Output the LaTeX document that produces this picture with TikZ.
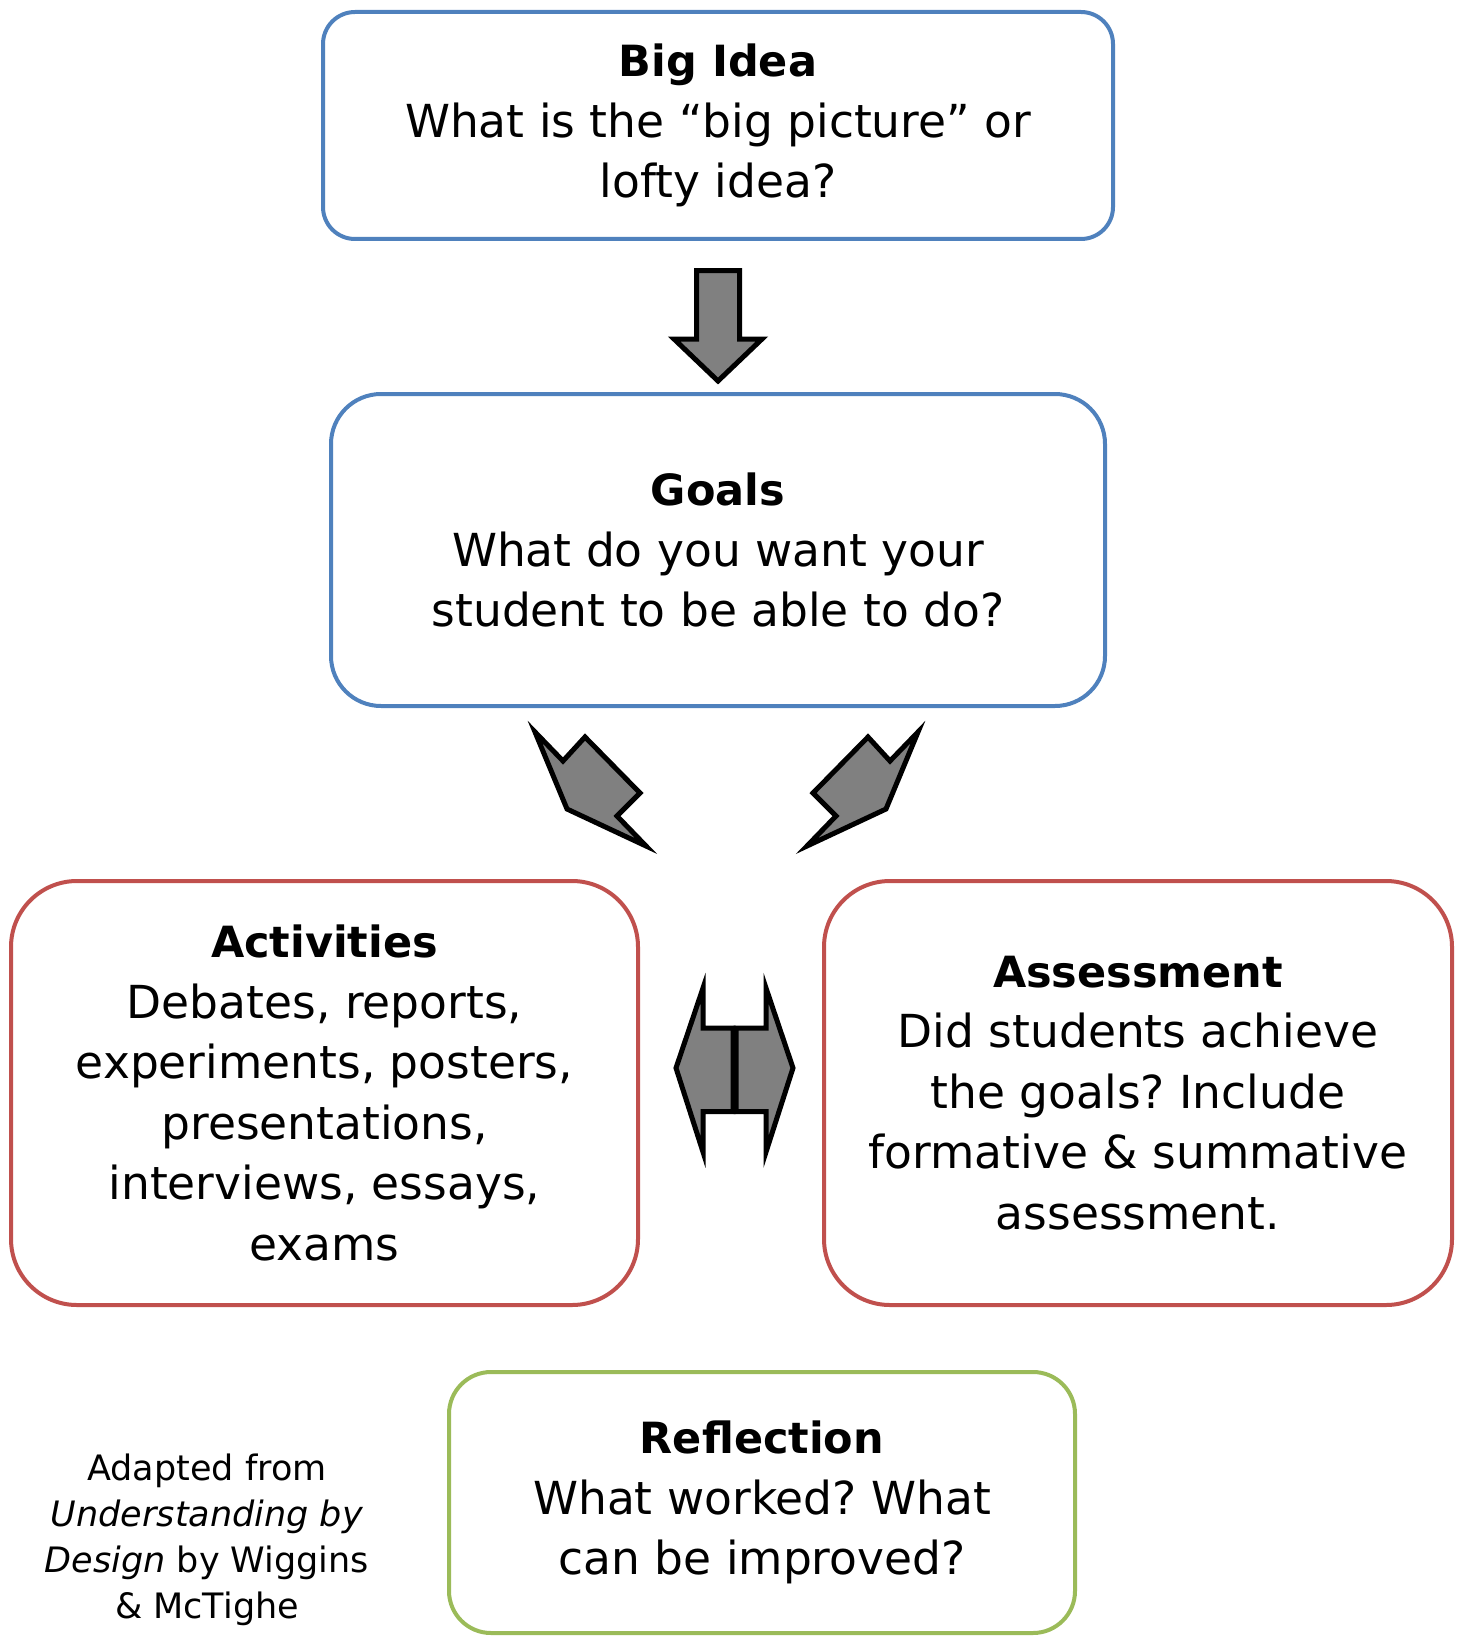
\documentclass[tikz,border=0pt]{standalone}
\usepackage{fontspec}
\setmainfont{DejaVu Sans}
\definecolor{bxblue}{HTML}{4F81BD}
\definecolor{bxred}{HTML}{C0504D}
\definecolor{bxgreen}{HTML}{9BBB59}
\definecolor{arrgray}{HTML}{808080}
\frenchspacing
\newcommand{\hd}[1]{{\fontsize{43}{60.5}\selectfont\bfseries #1}}
\begin{document}
\begin{tikzpicture}[x=1pt,y=-1pt,
  box/.style={draw, line width=4pt, fill=white, align=center, inner sep=0pt,
    font=\fontsize{45.5}{60.5}\selectfont},
  blockarrow/.style={draw=black, fill=arrgray, line width=5pt, line join=miter}]
\useasboundingbox (0,0) rectangle (1460,1637);
\clip (0,0) rectangle (1460,1637);

\node[box, draw=bxblue, rounded corners=32pt, minimum width=790pt, minimum height=227pt]
  (bigidea) at (718,125.5) {\hd{Big Idea}\\What is the “big picture” or\\lofty idea?};

\node[box, draw=bxblue, rounded corners=50pt, minimum width=774pt, minimum height=312pt]
  (goals) at (718,550) {\hd{Goals}\\What do you want your\\student to be able to do?};

\node[box, draw=bxred, rounded corners=66pt, minimum width=627pt, minimum height=424pt]
  (activities) at (324.5,1093) {\hd{Activities}\\Debates, reports,\\experiments, posters,\\presentations,\\interviews, essays,\\exams};

\node[box, draw=bxred, rounded corners=66pt, minimum width=628pt, minimum height=424pt]
  (assessment) at (1138,1093) {\hd{Assessment}\\Did students achieve\\the goals? Include\\formative \& summative\\assessment.};

\node[box, draw=bxgreen, rounded corners=42pt, minimum width=626pt, minimum height=261pt]
  (reflection) at (762,1502.5) {\hd{Reflection}\\What worked? What\\can be improved?};

\node[align=center, inner sep=0pt, font=\fontsize{35}{46}\selectfont]
  (credit) at (207,1539.7) {Adapted from\\\textit{Understanding by}\\\textit{Design} by Wiggins\\\& McTighe};

% down arrow
\draw[blockarrow] (696.5,270.5) -- (739.5,270.5) -- (739.5,339) -- (762,339)
  -- (718,381) -- (674,339) -- (696.5,339) -- cycle;

% diagonal arrows
\draw[blockarrow] (535,732) -- (563,761) -- (585,737) -- (640,793) -- (617,816)
  -- (646,846) -- (567,809) -- cycle;
\draw[blockarrow] (918,732) -- (890,761) -- (868,737) -- (813,793) -- (836,816)
  -- (807,846) -- (886,809) -- cycle;

% double arrow
\draw[blockarrow] (703,988) -- (703,1028) -- (733,1028) -- (733,1111.5) -- (703,1111.5)
  -- (703,1152) -- (676,1068) -- cycle;
\draw[blockarrow] (766,988) -- (766,1028) -- (736,1028) -- (736,1111.5) -- (766,1111.5)
  -- (766,1152) -- (793,1068) -- cycle;
\end{tikzpicture}
\end{document}
